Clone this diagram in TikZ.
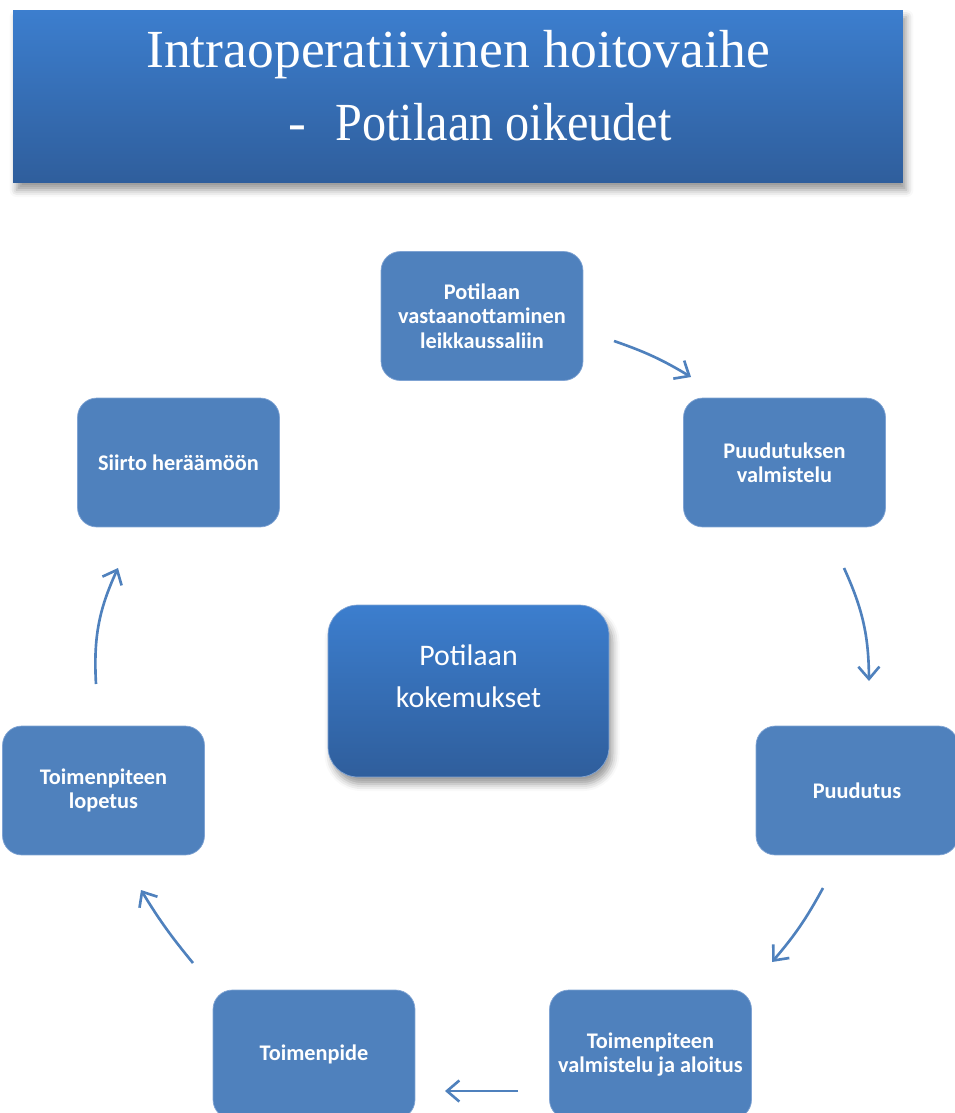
\documentclass[tikz,border=0pt]{standalone}
\usepackage{fontspec}
\setmainfont{Liberation Serif}
\setsansfont{Carlito}
\usetikzlibrary{arrows.meta,shadows.blur}

\definecolor{boxblue}{HTML}{4F81BD}
\definecolor{boxedge}{HTML}{7FA3D3}
\definecolor{gradtop}{HTML}{3C7ECE}
\definecolor{gradbot}{HTML}{2F5E9C}

\begin{document}
\begin{tikzpicture}[x=0.02cm,y=-0.02cm,
  >={Straight Barb[length=7pt,width=12pt]},
  phase/.style={rectangle,rounded corners=11pt,fill=boxblue,draw=boxedge,
    minimum width=4.04cm,minimum height=2.58cm,align=center,
    text=white,font=\sffamily\bfseries\fontsize{12.7}{13.9}\selectfont},
  banner/.style={rectangle,top color=gradtop,bottom color=gradbot,
    blur shadow={shadow xshift=2pt,shadow yshift=-4pt,shadow blur radius=4pt}},
  flow/.style={->,boxblue,line width=1.5pt}]
  \useasboundingbox (0,0) rectangle (955,1113);

  % title
  \node[banner,minimum width=17.8cm,minimum height=3.46cm] (title) at (458,96.5) {};
  \node[text=white,font=\fontsize{30.5}{36}\selectfont] (head) at (458,55)
    {Intraoperatiivinen hoitovaihe};
  \node[text=white,font=\fontsize{30.5}{36}\selectfont,anchor=west] (sub) at (282,122)
    {-\hspace{0.55em}\scalebox{0.9}[1]{Potilaan oikeudet}};

  % centre
  \node[banner,draw=boxedge,rounded corners=17pt,minimum width=5.62cm,
    minimum height=3.44cm] (core) at (468.5,691) {};
  \node[text=white,align=center,font=\sffamily\fontsize{17}{23.8}\selectfont]
    (coretext) at (468.5,676) {Potilaan\\kokemukset};

  % phases round the centre
  \node[phase] (recv) at (482,316) {Potilaan\\vastaanottaminen\\leikkaussaliin};
  \node[phase] (prep) at (784.5,462.5) {Puudutuksen\\valmistelu};
  \node[phase] (anest) at (857,790.5) {Puudutus};
  \node[phase] (start) at (650.5,1054.5) {Toimenpiteen\\valmistelu ja aloitus};
  \node[phase] (oper) at (314,1054.5) {Toimenpide};
  \node[phase] (close) at (103.5,790.5) {Toimenpiteen\\lopetus};
  \node[phase] (move) at (178.5,462.5) {Siirto heräämöön};

  % arrows
  \coordinate (a1s) at (614,341);  \coordinate (a1e) at (691,377);
  \coordinate (a2s) at (844,568);  \coordinate (a2e) at (869,681);
  \coordinate (a3s) at (823,888);  \coordinate (a3e) at (772,962);
  \coordinate (a4s) at (518,1091); \coordinate (a4e) at (445,1091);
  \coordinate (a5s) at (193,963);  \coordinate (a5e) at (141,890);
  \coordinate (a6s) at (96,684);   \coordinate (a6e) at (118,568);
  \draw[flow] (a1s) to[bend left=6] (a1e);
  \draw[flow] (a2s) to[bend left=12] (a2e);
  \draw[flow] (a3s) to[bend left=6] (a3e);
  \draw[flow] (a4s) to (a4e);
  \draw[flow] (a5s) to[bend left=4] (a5e);
  \draw[flow] (a6s) to[bend left=14] (a6e);
\end{tikzpicture}
\end{document}
